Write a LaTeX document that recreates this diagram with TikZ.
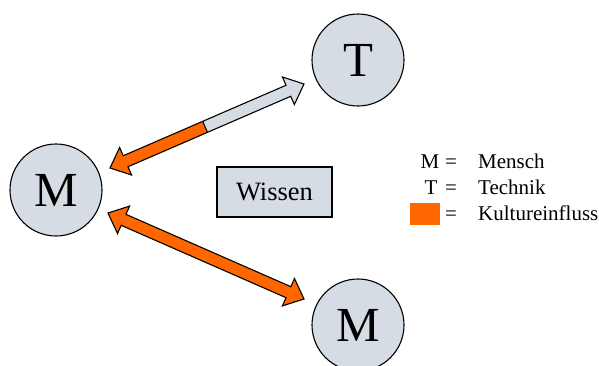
\documentclass[tikz,border=0pt]{standalone}
\usepackage{fontspec}
\setmainfont{Liberation Serif}
\usepackage{xcolor}
\usetikzlibrary{positioning, calc}

\definecolor{kreisgrau}{RGB}{214,220,228}
\definecolor{kultur}{RGB}{255,102,0}

% block double arrow: #1 start, #2 end, #3 split fraction, #4 colour from split to end, #5 split line
\newcommand{\doppelpfeil}[5]{%
  \coordinate (hA) at ($(#1)!17pt!(#2)$);
  \coordinate (hB) at ($(#2)!17pt!(#1)$);
  \coordinate (sp) at ($(#1)!#3!(#2)$);
  \coordinate (kA1) at ($(hA)!15pt!90:(#2)$);
  \coordinate (kA2) at ($(hA)!15pt!-90:(#2)$);
  \coordinate (sA1) at ($(hA)!6pt!90:(#2)$);
  \coordinate (sA2) at ($(hA)!6pt!-90:(#2)$);
  \coordinate (kB1) at ($(hB)!15pt!-90:(#1)$);
  \coordinate (kB2) at ($(hB)!15pt!90:(#1)$);
  \coordinate (sB1) at ($(hB)!6pt!-90:(#1)$);
  \coordinate (sB2) at ($(hB)!6pt!90:(#1)$);
  \coordinate (sp1) at ($(sp)!6pt!90:(#2)$);
  \coordinate (sp2) at ($(sp)!6pt!-90:(#2)$);
  \fill [kultur] (#1) -- (kA1) -- (sA1) -- (sp1) -- (sp2) -- (sA2) -- (kA2) -- cycle;
  \fill [#4] (sp1) -- (sB1) -- (kB1) -- (#2) -- (kB2) -- (sB2) -- (sp2) -- cycle;
  \draw [pfeilrand] (#1) -- (kA1) -- (sA1) -- (sB1) -- (kB1) -- (#2) -- (kB2) -- (sB2) -- (sA2) -- (kA2) -- cycle;
  \draw [pfeilrand, #5] (sp1) -- (sp2);
}

\begin{document}
\begin{tikzpicture}[x=1pt, y=-1pt]
  \tikzstyle{akteur} = [circle, draw, line width=1.1pt, fill=kreisgrau, minimum size=92pt, inner sep=0pt, font=\fontsize{49}{49}\selectfont]
  \tikzstyle{wissen} = [rectangle, draw, line width=1.1pt, fill=kreisgrau, minimum width=115pt, minimum height=50pt, font=\fontsize{26.5}{26.5}\selectfont]
  \tikzstyle{legende} = [inner sep=0pt, font=\fontsize{21}{21}\selectfont]
  \tikzstyle{pfeilrand} = [line width=1.1pt, line join=miter]

  \useasboundingbox (0,0) rectangle (599,365);

  \node [akteur] (m1) at (56,190) {M};
  \node [akteur] (t) at (358,60) {T};
  \node [akteur] (m2) at (358,325) {M};
  \node [wissen] (w) at (274.5,192) {Wissen};

  % arrow ends
  \coordinate (a1s) at (110,168);
  \coordinate (a1e) at (304,84);
  \coordinate (a2s) at (108,213);
  \coordinate (a2e) at (304,299);

  \doppelpfeil{a1s}{a1e}{0.49}{kreisgrau}{draw=black}
  \doppelpfeil{a2s}{a2e}{0.5}{kultur}{draw=none}

  % legend
  \node [legende, anchor=base] (lm) at (430,168) {M};
  \node [legende, anchor=base] (lmeq) at (451,168) {=};
  \node [legende, anchor=base west] (lmt) at (478,168) {Mensch};
  \node [legende, anchor=base] (lt) at (431,194) {T};
  \node [legende, anchor=base] (lteq) at (451,194) {=};
  \node [legende, anchor=base west] (ltt) at (478,194) {Technik};
  \fill [kultur] (410,203) rectangle (440,225);
  \node [legende, anchor=base] (lkeq) at (451,220) {=};
  \node [legende, anchor=base west] (lkt) at (478,220) {Kultureinfluss};
\end{tikzpicture}
\end{document}
